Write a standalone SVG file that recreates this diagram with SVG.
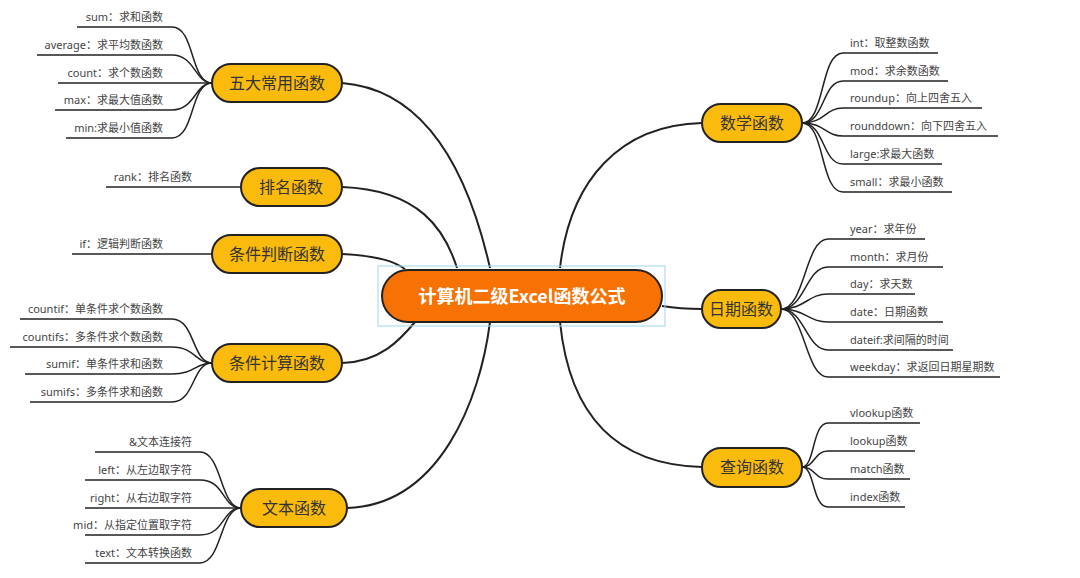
<svg xmlns="http://www.w3.org/2000/svg" width="1080" height="578" viewBox="0 0 1080 578">
<style>
.c{fill:none;stroke:#222;stroke-width:2}
.l{fill:none;stroke:#222;stroke-width:1.5}
.b{fill:#FABB0C;stroke:#222;stroke-width:2}
.bt{font-family:"Noto Sans CJK SC",sans-serif;font-size:16px;fill:#333;text-anchor:middle}
.t{font-family:"Noto Sans","Noto Sans CJK SC",sans-serif;font-size:11px;fill:#444}
.r{text-anchor:end}
</style>
<rect width="1080" height="578" fill="#fff"/>
<g id="connectors">
<path class="c" d="M342,83 C430,90 470,180 490,268"/>
<path class="c" d="M342,187 C420,190 445,230 457,268"/>
<path class="c" d="M342,254 C380,256 395,262 405,269"/>
<path class="c" d="M342,363 C380,362 400,340 415,322"/>
<path class="c" d="M347,508 C440,505 480,400 490,322"/>
<path class="c" d="M560,268 C570,180 620,125 702,123"/>
<path class="c" d="M662,306 C680,309 690,309 702,309"/>
<path class="c" d="M560,322 C570,420 620,465 702,467"/>
<g class="l">
<path d="M77,27 H172 C195,27 190,83 212,83"/><path d="M37,55 H172 C195,55 195,83 212,83"/><path d="M58,83 H212"/><path d="M55,110 H172 C195,110 195,83 212,83"/><path d="M66,138 H172 C195,138 190,83 212,83"/>
<path d="M106,187 H241"/><path d="M72,254 H212"/>
<path d="M20,319 H172 C195,319 192,363 212,363"/><path d="M10,347 H172 C195,347 195,363 212,363"/><path d="M25,374 H172 C195,374 195,363 212,363"/><path d="M30,402 H172 C195,402 192,363 212,363"/>
<path d="M95,452 H200 C222,452 220,508 241,508"/><path d="M85,480 H200 C225,480 222,508 241,508"/><path d="M85,508 H241"/><path d="M85,535 H200 C225,535 222,508 241,508"/><path d="M85,563 H200 C222,563 220,508 241,508"/>
<path d="M802,123 C825,123 820,53 843,53 H938"/><path d="M802,123 C825,123 822,81 843,81 H948"/><path d="M802,123 C825,123 825,108 843,108 H982"/><path d="M802,123 C825,123 825,136 843,136 H998"/><path d="M802,123 C825,123 822,164 843,164 H942"/><path d="M802,123 C825,123 820,192 843,192 H952"/>
<path d="M781,309 C805,309 805,239 828,239 H925"/><path d="M781,309 C805,309 806,267 828,267 H943"/><path d="M781,309 C805,309 808,294 828,294 H915"/><path d="M781,309 C805,309 808,322 828,322 H943"/><path d="M781,309 C805,309 806,350 828,350 H953"/><path d="M781,309 C805,309 805,377 828,377 H1000"/>
<path d="M802,467 C815,467 812,423 828,423 H920"/><path d="M802,467 C815,467 814,451 828,451 H915"/><path d="M802,467 C815,467 814,479 828,479 H910"/><path d="M802,467 C815,467 812,507 828,507 H905"/>
</g>
</g>
<g id="root">
<rect x="378" y="266" width="287" height="60" fill="none" stroke="#9fd3f0" stroke-width="1"/>
<rect x="382" y="270" width="280" height="52" rx="26" fill="#F87203" stroke="#222" stroke-width="2"/>
<text x="522" y="303" font-family="Noto Sans CJK SC,sans-serif" font-size="18" font-weight="bold" fill="#fff" text-anchor="middle">计算机二级Excel函数公式</text>
</g>
<g id="n1"><rect class="b" x="212" y="64" width="130" height="38" rx="19"/><text class="bt" x="277" y="89">五大常用函数</text>
<text class="t r" x="163" y="21">sum：求和函数</text><text class="t r" x="163" y="49">average：求平均数函数</text><text class="t r" x="163" y="77">count：求个数函数</text><text class="t r" x="163" y="104">max：求最大值函数</text><text class="t r" x="163" y="132">min:求最小值函数</text></g>
<g id="n2"><rect class="b" x="241" y="168" width="101" height="38" rx="19"/><text class="bt" x="291" y="193">排名函数</text><text class="t r" x="192" y="181">rank：排名函数</text></g>
<g id="n3"><rect class="b" x="212" y="235" width="130" height="38" rx="19"/><text class="bt" x="277" y="260">条件判断函数</text><text class="t r" x="163" y="248">if：逻辑判断函数</text></g>
<g id="n4"><rect class="b" x="212" y="344" width="130" height="38" rx="19"/><text class="bt" x="277" y="369">条件计算函数</text>
<text class="t r" x="163" y="313">countif：单条件求个数函数</text><text class="t r" x="163" y="341">countifs：多条件求个数函数</text><text class="t r" x="163" y="368">sumif：单条件求和函数</text><text class="t r" x="163" y="396">sumifs：多条件求和函数</text></g>
<g id="n5"><rect class="b" x="241" y="489" width="106" height="38" rx="19"/><text class="bt" x="294" y="514">文本函数</text>
<text class="t r" x="192" y="446">&amp;文本连接符</text><text class="t r" x="192" y="474">left：从左边取字符</text><text class="t r" x="192" y="502">right：从右边取字符</text><text class="t r" x="192" y="529">mid：从指定位置取字符</text><text class="t r" x="192" y="557">text：文本转换函数</text></g>
<g id="n6"><rect class="b" x="702" y="104" width="100" height="38" rx="19"/><text class="bt" x="752" y="129">数学函数</text>
<text class="t" x="850" y="47">int：取整数函数</text><text class="t" x="850" y="75">mod：求余数函数</text><text class="t" x="850" y="102">roundup：向上四舍五入</text><text class="t" x="850" y="130">rounddown：向下四舍五入</text><text class="t" x="850" y="158">large:求最大函数</text><text class="t" x="850" y="186">small：求最小函数</text></g>
<g id="n7"><rect class="b" x="702" y="290" width="79" height="38" rx="19"/><text class="bt" x="741" y="315">日期函数</text>
<text class="t" x="850" y="233">year：求年份</text><text class="t" x="850" y="261">month：求月份</text><text class="t" x="850" y="288">day：求天数</text><text class="t" x="850" y="316">date：日期函数</text><text class="t" x="850" y="344">dateif:求间隔的时间</text><text class="t" x="850" y="371">weekday：求返回日期星期数</text></g>
<g id="n8"><rect class="b" x="702" y="448" width="100" height="39" rx="19"/><text class="bt" x="752" y="473">查询函数</text>
<text class="t" x="850" y="417">vlookup函数</text><text class="t" x="850" y="445">lookup函数</text><text class="t" x="850" y="473">match函数</text><text class="t" x="850" y="501">index函数</text></g>
</svg>
